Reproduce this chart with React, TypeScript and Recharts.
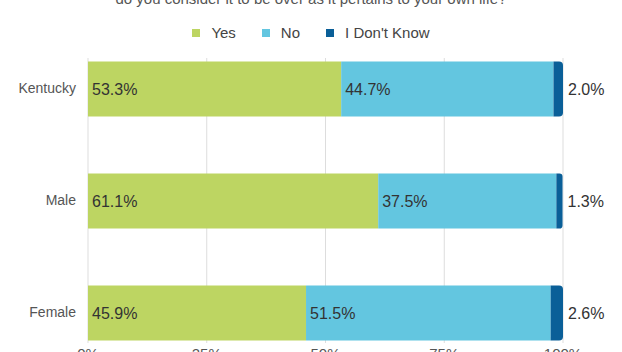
import { BarChart, Bar, XAxis, YAxis, CartesianGrid, LabelList } from 'recharts'

const categories = ['Kentucky', 'Male', 'Female']
const yesValues = [53.3, 61.1, 45.9]
const noValues = [44.7, 37.5, 51.5]
const dontKnowValues = [2.0, 1.3, 2.6]
const xTicks = [0, 25, 50, 75, 100]

const title = 'do you consider it to be over as it pertains to your own life?'

const series = [
  { key: 'yes', name: 'Yes', color: '#bdd562' },
  { key: 'no', name: 'No', color: '#63c6e0' },
  { key: 'dk', name: "I Don't Know", color: '#0a5f98' },
]

const data = categories.map((c, i) => ({
  name: c,
  yes: yesValues[i],
  no: noValues[i],
  dk: dontKnowValues[i],
}))

const FONT = '"Liberation Sans", Arial, sans-serif'
const pct = (v: number) => `${v.toFixed(1)}%`

export default function App() {
  return (
    <div style={{ position: 'absolute', left: 0, top: 0, width: 622, height: 352, overflow: 'hidden', fontFamily: FONT, background: '#fff' }}>
      <div style={{ position: 'absolute', left: 0, width: 622, top: -10, textAlign: 'center', fontSize: 15, color: '#555', lineHeight: '18px' }}>
        {title}
      </div>
      <div style={{ position: 'absolute', left: 0, width: 622, top: 24, display: 'flex', justifyContent: 'center', fontSize: 15, color: '#444', lineHeight: '18px' }}>
        {series.map((s) => (
          <div key={s.key} style={{ display: 'flex', alignItems: 'center', margin: '0 13px' }}>
            <span style={{ width: 8, height: 8, background: s.color, marginRight: 11, display: 'inline-block' }} />
            {s.name}
          </div>
        ))}
      </div>
      <div style={{ position: 'absolute', left: 0, top: 0 }}>
        <BarChart
          width={622}
          height={400}
          data={data}
          layout="vertical"
          margin={{ top: 58, right: 59, left: 0, bottom: 27 }}
        >
          <CartesianGrid horizontal={false} stroke="#dddddd" />
          <XAxis
            type="number"
            domain={[0, 100]}
            ticks={xTicks}
            tickFormatter={(v: number) => `${v}%`}
            axisLine={false}
            tickLine={false}
            tickSize={0}
            tickMargin={5}
            height={30}
            tick={{ fontSize: 15, fill: '#555', fontFamily: FONT }}
          />
          <YAxis
            type="category"
            dataKey="name"
            width={88}
            axisLine={false}
            tickLine={false}
            tickSize={0}
            tickMargin={12}
            padding={{ top: -25.5, bottom: -25.5 }}
            tick={{ fontSize: 14, fill: '#555', fontFamily: FONT }}
          />
          {series.map((s, i) => (
            <Bar
              key={s.key}
              dataKey={s.key}
              name={s.name}
              stackId="a"
              fill={s.color}
              barSize={55}
              radius={i === 2 ? [0, 4, 4, 0] : [0, 0, 0, 0]}
              isAnimationActive={false}
            >
              <LabelList
                dataKey={s.key}
                position={i === 2 ? 'right' : 'insideLeft'}
                offset={i === 2 ? 5 : 4}
                formatter={(v: number) => pct(v)}
                style={{ fontSize: 16, fill: '#333', fontFamily: FONT }}
              />
            </Bar>
          ))}
        </BarChart>
      </div>
    </div>
  )
}
